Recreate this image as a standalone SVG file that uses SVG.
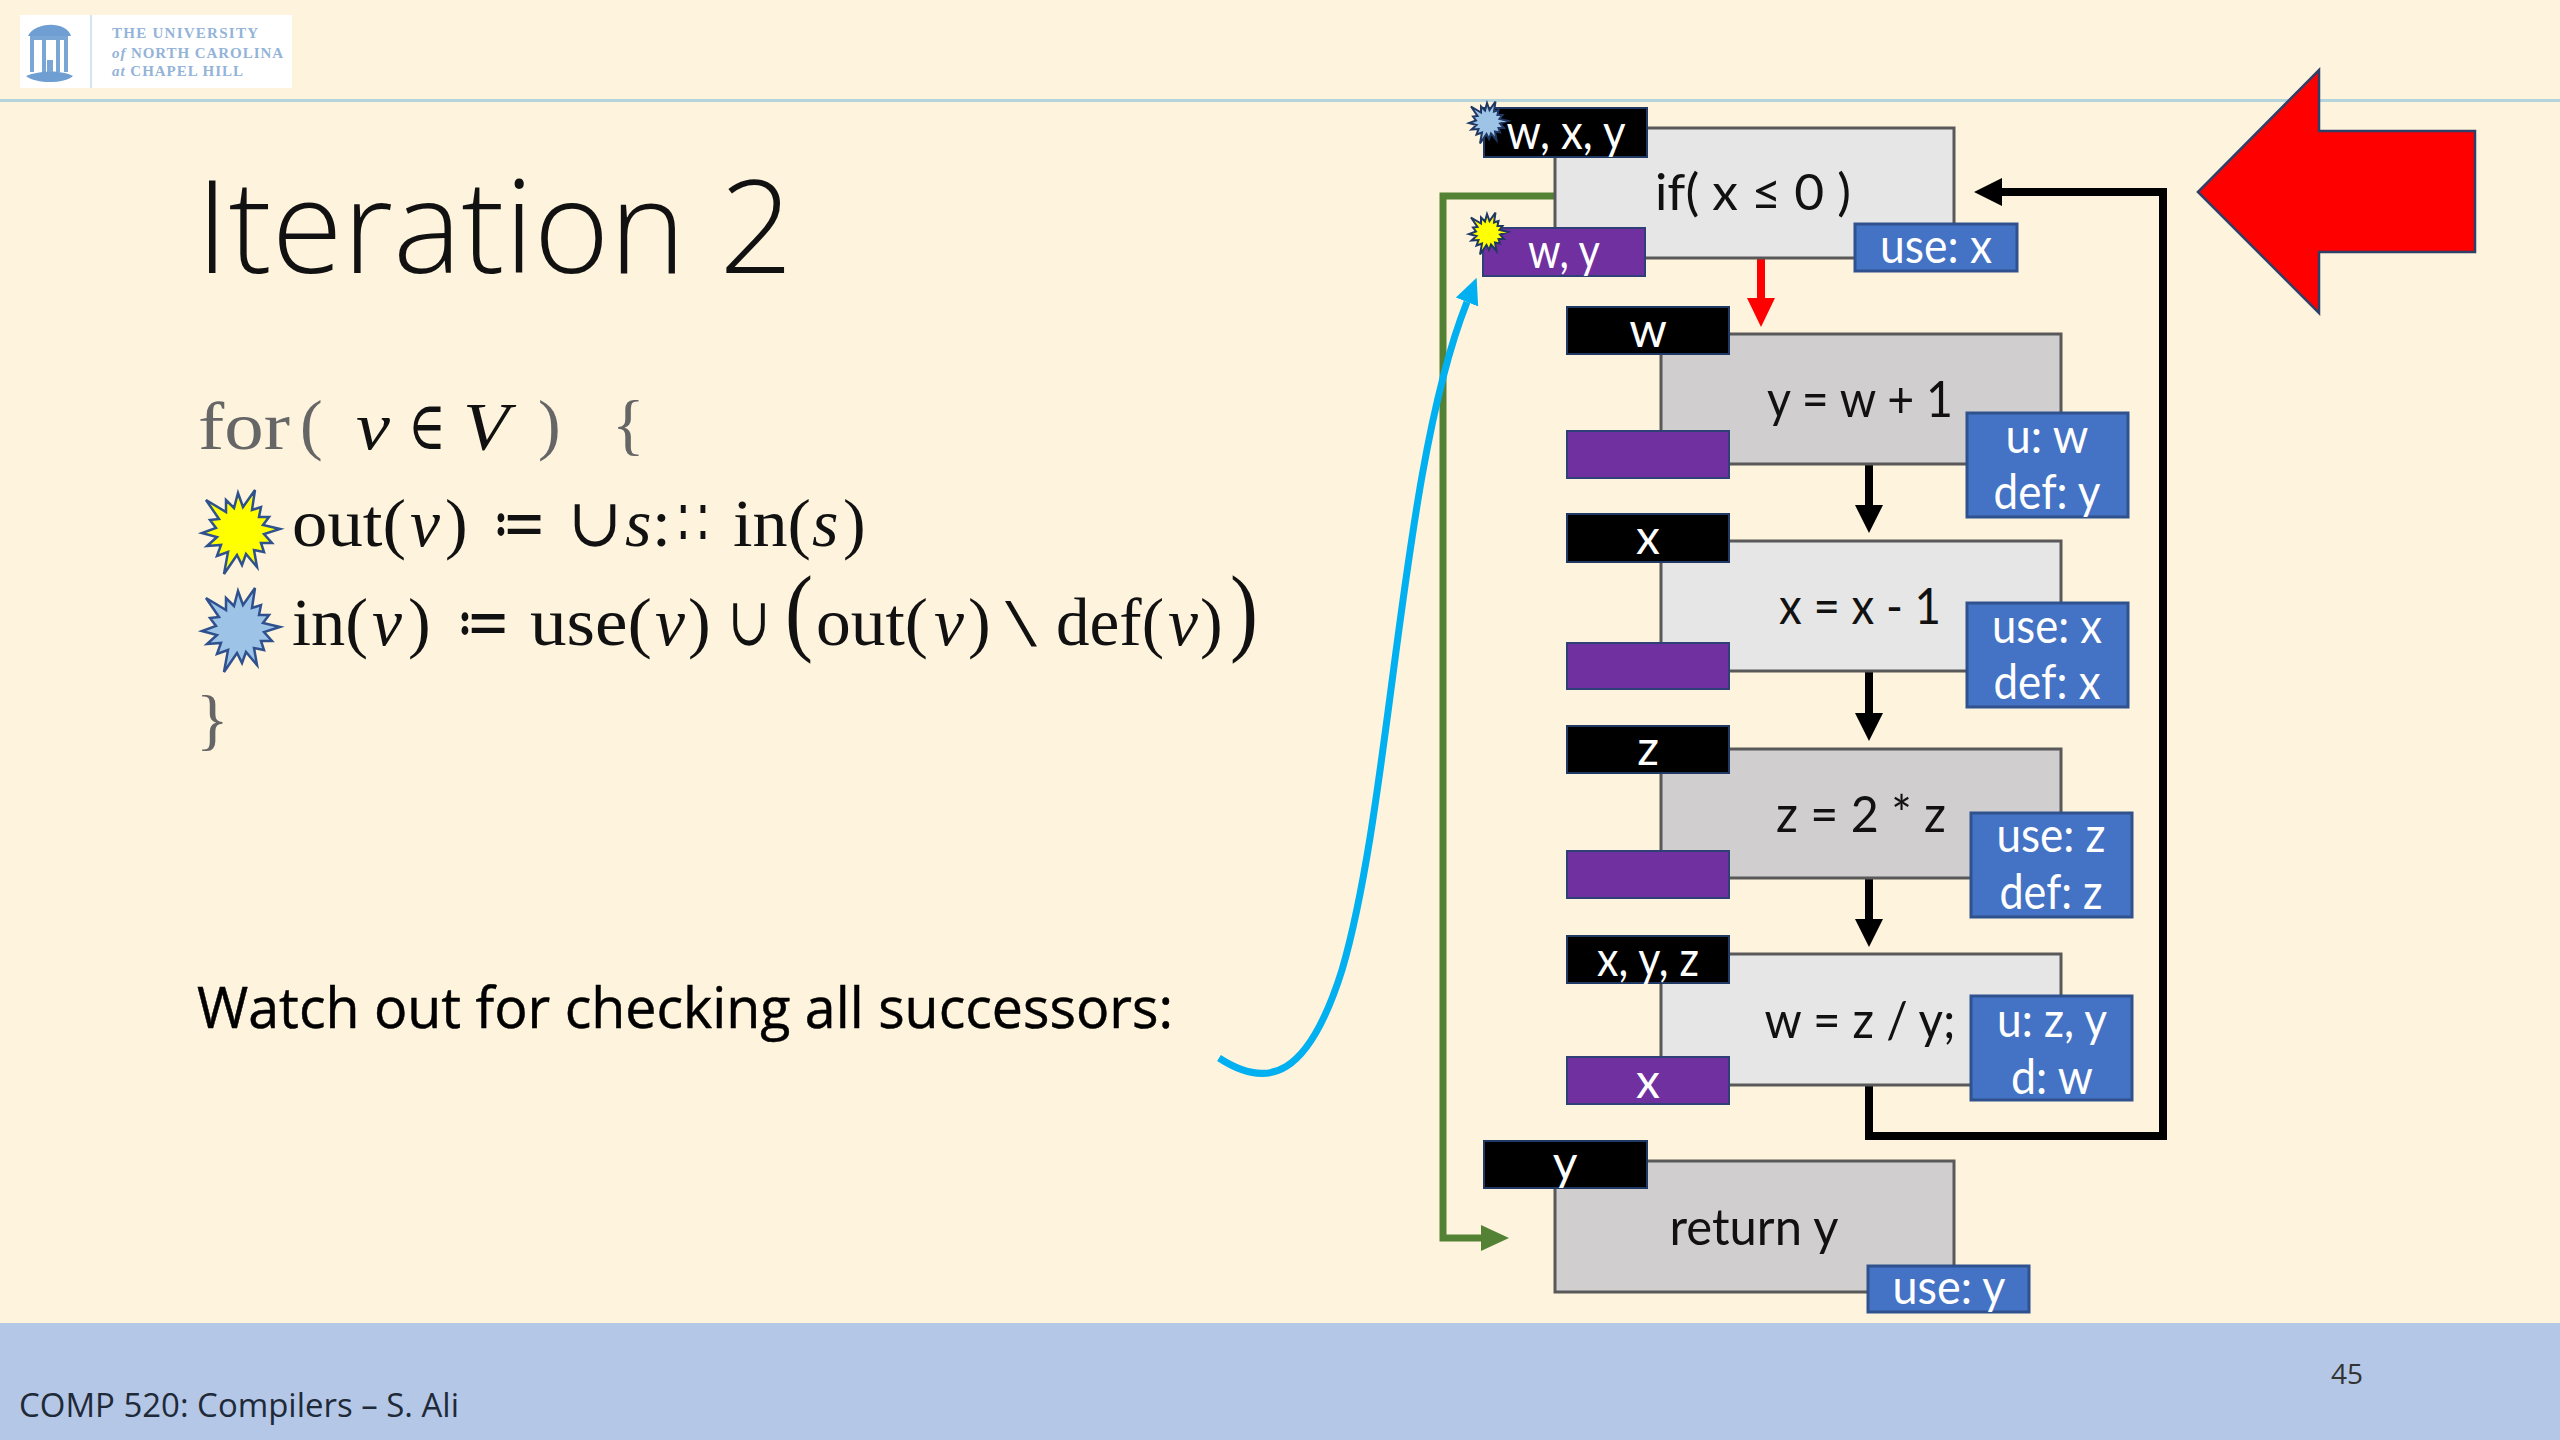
<svg xmlns="http://www.w3.org/2000/svg" xmlns:xlink="http://www.w3.org/1999/xlink" width="2560" height="1440" viewBox="0 0 2560 1440">
<style>
text{font-family:"Lato","Open Sans","Liberation Sans",sans-serif;}
.sl{fill:#111;font-size:50px;text-anchor:middle;}
.tg{fill:#fff;font-size:48px;text-anchor:middle;}
.blk{fill:#000;stroke:#1f3864;stroke-width:2;}
.pur{fill:#7030a0;stroke:#2f3f78;stroke-width:2;}
.use{fill:#4472c4;stroke:#2f528f;stroke-width:3;}
.lt{fill:#e7e6e6;stroke:#595959;stroke-width:3;}
.dk{fill:#d0cece;stroke:#595959;stroke-width:3;}
.m{font-family:"Liberation Serif","DejaVu Serif",serif;font-size:68px;fill:#111;}
.g{font-family:"Liberation Serif","DejaVu Serif",serif;font-size:68px;fill:#666;}
.i{font-style:italic;}
.lg{font-family:"Liberation Serif",serif;font-weight:bold;font-size:15px;fill:#93b3d8;}
.con{fill:none;stroke:#000;stroke-width:8;}
</style>
<defs>
<polygon id="star" points="15,-41 12,-21 21,-24 19,-14 29,-14 23,-6 40,-2 24,3 32,12 21,12 24,21 14,19 17,36 6,23 2,34 -3,24 -16,43 -12,21 -23,25 -19,14 -33,15 -23,6 -38,2 -24,-3 -30,-11 -21,-12 -34,-31 -14,-19 -14,-31 -6,-23 -2,-38 3,-24"/>
<marker id="ab" markerUnits="userSpaceOnUse" markerWidth="30" markerHeight="30" viewBox="0 0 30 30" refX="0" refY="15" orient="auto"><path d="M0 1L28 15L0 29z" fill="#000"/></marker>
<marker id="ar" markerUnits="userSpaceOnUse" markerWidth="30" markerHeight="30" viewBox="0 0 30 30" refX="0" refY="15" orient="auto"><path d="M0 1L29 15L0 29z" fill="#f00"/></marker>
<marker id="ag" markerUnits="userSpaceOnUse" markerWidth="30" markerHeight="30" viewBox="0 0 30 30" refX="0" refY="15" orient="auto"><path d="M0 2L28 15L0 28z" fill="#548235"/></marker>
<marker id="ac" markerUnits="userSpaceOnUse" markerWidth="30" markerHeight="30" viewBox="0 0 30 30" refX="0" refY="15" orient="auto"><path d="M0 3L26 15L0 27z" fill="#00b0f0"/></marker>
</defs>

<rect width="2560" height="1440" fill="#fef3dd"/>
<rect x="0" y="99" width="2560" height="3" fill="#b5d3da"/>
<rect x="0" y="1323" width="2560" height="117" fill="#b4c7e7"/>

<g id="logo">
<rect x="20" y="15" width="272" height="73" fill="#fff"/>
<rect x="90" y="15" width="2" height="73" fill="#d5e2f0"/>
<path d="M28 36C34 22 66 20 71 36z" fill="#6f9fd2"/>
<path d="M30 38H68M32 38V72M44 38V72M58 38V72M66 38V72" fill="none" stroke="#7aa6d6" stroke-width="4"/>
<path d="M26 76C40 70 62 70 73 76C64 84 36 84 26 76z" fill="#6f9fd2"/>
<rect x="47" y="60" width="6" height="12" fill="#7aa6d6"/>
<text class="lg" x="112" y="38" textLength="146">THE UNIVERSITY</text>
<text class="lg" x="112" y="58" textLength="171"><tspan font-style="italic">of</tspan> NORTH CAROLINA</text>
<text class="lg" x="112" y="76" textLength="131"><tspan font-style="italic">at</tspan> CHAPEL HILL</text>
</g>

<text x="196" y="273" style="font-family:'Open Sans','Noto Sans',sans-serif;font-weight:300;font-size:130px;fill:#111" textLength="597" lengthAdjust="spacingAndGlyphs">Iteration 2</text>

<g id="formula">
<text class="g" x="198" y="449" textLength="92" lengthAdjust="spacingAndGlyphs">for</text>
<text class="g" x="300" y="447">(</text>
<text class="m i" x="356" y="449" textLength="34" lengthAdjust="spacingAndGlyphs">v</text>
<text class="m" x="408" y="449" textLength="38" lengthAdjust="spacingAndGlyphs">∈</text>
<text class="m i" x="463" y="449" textLength="46" lengthAdjust="spacingAndGlyphs">V</text>
<text class="g" x="538" y="447">)</text>
<text class="g" x="612" y="447">{</text>

<use xlink:href="#star" x="240" y="531" fill="#ffff00" stroke="#2f528f" stroke-width="2.5"/>
<text class="m" x="292" y="546" textLength="114" lengthAdjust="spacingAndGlyphs">out(</text>
<text class="m i" x="410" y="546" textLength="30" lengthAdjust="spacingAndGlyphs">v</text>
<text class="m" x="445" y="546">)</text>
<text class="m" x="492" y="546" textLength="54" lengthAdjust="spacingAndGlyphs">≔</text>
<text class="m" x="568" y="546" textLength="54" lengthAdjust="spacingAndGlyphs">∪</text>
<text class="m i" x="625" y="546">s</text>
<text class="m" x="652" y="546">:</text>
<text class="m" x="678" y="546" textLength="30" lengthAdjust="spacingAndGlyphs">∷</text>
<text class="m" x="733" y="546" textLength="78" lengthAdjust="spacingAndGlyphs">in(</text>
<text class="m i" x="812" y="546">s</text>
<text class="m" x="843" y="546">)</text>

<use xlink:href="#star" x="240" y="629" fill="#9dc3e6" stroke="#2f528f" stroke-width="2.5"/>
<text class="m" x="292" y="645" textLength="76" lengthAdjust="spacingAndGlyphs">in(</text>
<text class="m i" x="372" y="645" textLength="30" lengthAdjust="spacingAndGlyphs">v</text>
<text class="m" x="408" y="645">)</text>
<text class="m" x="456" y="645" textLength="54" lengthAdjust="spacingAndGlyphs">≔</text>
<text class="m" x="530" y="645" textLength="122" lengthAdjust="spacingAndGlyphs">use(</text>
<text class="m i" x="655" y="645" textLength="30" lengthAdjust="spacingAndGlyphs">v</text>
<text class="m" x="688" y="645">)</text>
<text class="m" x="728" y="645" textLength="42" lengthAdjust="spacingAndGlyphs">∪</text>
<text x="785" y="643" class="m" style="font-size:98px" textLength="28" lengthAdjust="spacingAndGlyphs">(</text>
<text class="m" x="816" y="645" textLength="112" lengthAdjust="spacingAndGlyphs">out(</text>
<text class="m i" x="934" y="645" textLength="30" lengthAdjust="spacingAndGlyphs">v</text>
<text class="m" x="968" y="645">)</text>
<text class="m" x="1005" y="645" textLength="32" lengthAdjust="spacingAndGlyphs">\</text>
<text class="m" x="1056" y="645" textLength="108" lengthAdjust="spacingAndGlyphs">def(</text>
<text class="m i" x="1168" y="645" textLength="30" lengthAdjust="spacingAndGlyphs">v</text>
<text class="m" x="1200" y="645">)</text>
<text class="m" x="1230" y="643" style="font-size:98px" textLength="28" lengthAdjust="spacingAndGlyphs">)</text>
<text class="g" x="196" y="742">}</text>
</g>

<text x="197" y="1028" style="font-family:'Open Sans','Noto Sans',sans-serif;font-size:57px;fill:#000;stroke:#000;stroke-width:.5" textLength="976" lengthAdjust="spacingAndGlyphs">Watch out for checking all successors:</text>

<g id="connectors">
<path d="M1555 196H1443V1238H1481" fill="none" stroke="#548235" stroke-width="7" marker-end="url(#ag)"/>
<path d="M1869 1085V1136H2163V192H2002" class="con" marker-end="url(#ab)"/>
<path d="M1761 258V298" fill="none" stroke="#f00" stroke-width="8" marker-end="url(#ar)"/>
<path d="M1869 464V505" class="con" marker-end="url(#ab)"/>
<path d="M1869 671V713" class="con" marker-end="url(#ab)"/>
<path d="M1869 878V919" class="con" marker-end="url(#ab)"/>
<path d="M1219 1058C1268 1090 1308 1078 1342 970C1392 800 1400 470 1467 302" fill="none" stroke="#00b0f0" stroke-width="7" marker-end="url(#ac)"/>
</g>

<g id="n-if">
<rect class="lt" x="1555" y="128" width="399" height="130"/>
<rect class="blk" x="1484" y="108" width="163" height="49"/>
<rect class="pur" x="1483" y="228" width="162" height="48"/>
<rect class="use" x="1855" y="224" width="162" height="47"/>
<use xlink:href="#star" x="1488" y="122" transform="translate(744 61) scale(.5)" fill="#9dc3e6" stroke="#1f3864" stroke-width="4"/>
<use xlink:href="#star" x="1488" y="233" transform="translate(744 116.500) scale(.5)" fill="#ffff00" stroke="#1f3864" stroke-width="4"/>
<text class="tg" x="1566" y="149" textLength="119" lengthAdjust="spacingAndGlyphs">w, x, y</text>
<text class="tg" x="1564" y="268" textLength="72" lengthAdjust="spacingAndGlyphs">w, y</text>
<text class="tg" x="1936" y="263" textLength="112" lengthAdjust="spacingAndGlyphs">use: x</text>
<text class="sl" x="1753" y="210" textLength="196" lengthAdjust="spacingAndGlyphs">if( x ≤ 0 )</text>
</g>

<g id="n-y">
<rect class="dk" x="1661" y="334" width="400" height="130"/>
<rect class="blk" x="1567" y="307" width="162" height="47"/>
<rect class="pur" x="1567" y="431" width="162" height="47"/>
<rect class="use" x="1967" y="413" width="161" height="104"/>
<text class="tg" x="1648" y="347">w</text>
<text class="sl" x="1860" y="417" textLength="186" lengthAdjust="spacingAndGlyphs">y = w + 1</text>
<text class="tg" x="2047" y="453" textLength="83" lengthAdjust="spacingAndGlyphs">u: w</text>
<text class="tg" x="2047" y="509" textLength="107" lengthAdjust="spacingAndGlyphs">def: y</text>
</g>

<g id="n-x">
<rect class="lt" x="1661" y="541" width="400" height="130"/>
<rect class="blk" x="1567" y="514" width="162" height="48"/>
<rect class="pur" x="1567" y="643" width="162" height="46"/>
<rect class="use" x="1967" y="603" width="161" height="104"/>
<text class="tg" x="1648" y="554">x</text>
<text class="sl" x="1860" y="624" textLength="162" lengthAdjust="spacingAndGlyphs">x = x - 1</text>
<text class="tg" x="2047" y="643" textLength="110" lengthAdjust="spacingAndGlyphs">use: x</text>
<text class="tg" x="2047" y="699" textLength="107" lengthAdjust="spacingAndGlyphs">def: x</text>
</g>

<g id="n-z">
<rect class="dk" x="1661" y="749" width="400" height="129"/>
<rect class="blk" x="1567" y="726" width="162" height="47"/>
<rect class="pur" x="1567" y="851" width="162" height="47"/>
<rect class="use" x="1971" y="813" width="161" height="104"/>
<text class="tg" x="1648" y="765">z</text>
<text class="sl" x="1861" y="832" textLength="170" lengthAdjust="spacingAndGlyphs">z = 2 * z</text>
<text class="tg" x="2051" y="852" textLength="109" lengthAdjust="spacingAndGlyphs">use: z</text>
<text class="tg" x="2051" y="909" textLength="103" lengthAdjust="spacingAndGlyphs">def: z</text>
</g>

<g id="n-w">
<rect class="lt" x="1661" y="954" width="400" height="131"/>
<rect class="blk" x="1567" y="936" width="162" height="47"/>
<rect class="pur" x="1567" y="1057" width="162" height="47"/>
<rect class="use" x="1971" y="996" width="161" height="104"/>
<text class="tg" x="1648" y="976" textLength="102" lengthAdjust="spacingAndGlyphs">x, y, z</text>
<text class="tg" x="1648" y="1098">x</text>
<text class="sl" x="1860" y="1038" textLength="191" lengthAdjust="spacingAndGlyphs">w = z / y;</text>
<text class="tg" x="2052" y="1037" textLength="110" lengthAdjust="spacingAndGlyphs">u: z, y</text>
<text class="tg" x="2052" y="1094" textLength="82" lengthAdjust="spacingAndGlyphs">d: w</text>
</g>

<g id="n-ret">
<rect class="dk" x="1555" y="1161" width="399" height="131"/>
<rect class="blk" x="1484" y="1141" width="163" height="47"/>
<rect class="use" x="1868" y="1266" width="161" height="46"/>
<text class="tg" x="1565" y="1180">y</text>
<text class="sl" x="1754" y="1245" textLength="169" lengthAdjust="spacingAndGlyphs">return y</text>
<text class="tg" x="1949" y="1304" textLength="113" lengthAdjust="spacingAndGlyphs">use: y</text>
</g>

<polygon id="big-arrow" points="2198,192 2319,70 2319,131 2475,131 2475,252 2319,252 2319,313" fill="#f00" stroke="#2f3f68" stroke-width="2.500"/>

<text x="19" y="1417" style="font-family:'Open Sans','Noto Sans',sans-serif;font-size:32px;fill:#1f2a38" textLength="440" lengthAdjust="spacingAndGlyphs">COMP 520: Compilers – S. Ali</text>
<text x="2331" y="1384" style="font-family:'Open Sans','Noto Sans',sans-serif;font-size:28px;fill:#333">45</text>
</svg>
